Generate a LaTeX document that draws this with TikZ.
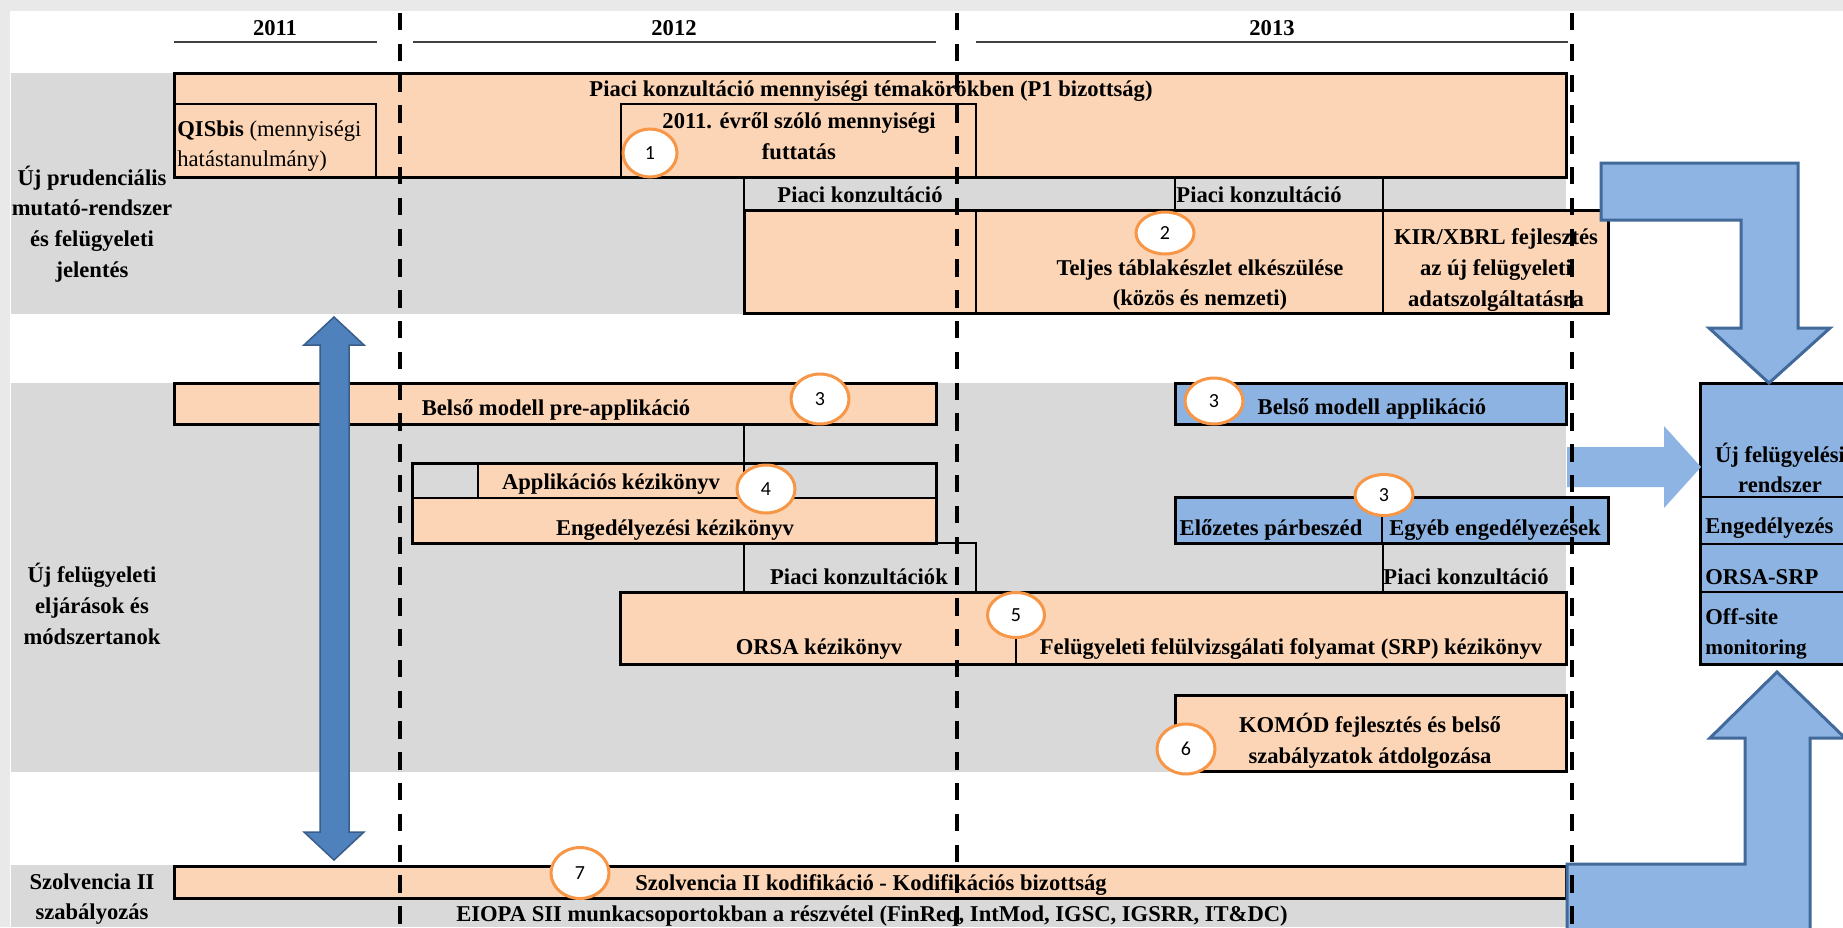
\documentclass[tikz,border=0pt]{standalone}
\usepackage{fontspec}
\setmainfont{Liberation Serif}
\newfontfamily\numfont{Carlito}
\usetikzlibrary{shapes.geometric}

\definecolor{framegray}{HTML}{E9E9E9}
\definecolor{bandgray}{HTML}{D9D9D9}
\definecolor{peach}{HTML}{FBD5B5}
\definecolor{skyblue}{HTML}{8DB3E2}
\definecolor{arrowblue}{HTML}{8EB4E3}
\definecolor{arrowedge}{HTML}{41699A}
\definecolor{darkblue}{HTML}{4F81BD}
\definecolor{darkedge}{HTML}{385D8A}
\definecolor{ringorange}{HTML}{F79646}

\begin{document}
\begin{tikzpicture}
[   x=0.5pt, y=-0.5pt,
    font=\bfseries\fontsize{11.3}{15.3}\selectfont,
    every node/.style={inner sep=0pt,align=center},
    edge/.style={draw=black,line width=1.5pt},
    obox/.style={edge,fill=#1},
    obox/.default=peach,
    cell/.style={draw=black,line width=0.75pt},
    dline/.style={draw=black,line width=2pt,dash pattern=on 8.7pt off 6.7pt},
    num/.style={ellipse,draw=ringorange,fill=white,line width=1.5pt,font=\numfont\mdseries\fontsize{10}{10}\selectfont},
]
    \useasboundingbox (0,0) rectangle (1843,927);
    \clip (0,0) rectangle (1843,927);
    %
    \fill[framegray] (0,0) rectangle (1843,927);
    \fill[white] (10,11) rectangle (1843,927);
    \fill[bandgray] (11,73) rectangle (1566,314);
    \fill[bandgray] (11,383) rectangle (1566,772);
    \fill[bandgray] (11,865) rectangle (1566,927);

    \foreach \yr/\x/\a/\b in {2011/275/174/377, 2012/674/413/936, 2013/1272/976/1568}
    {
        \node (y\yr) at (\x,28) {\yr};
        \draw[black!75,line width=0.6pt] (\a,42) -- (\b,42);
    }

    \node (row1) at (92,224) {Új prudenciális\\mutató-rendszer\\és felügyeleti\\jelentés};
    \node (row2) at (92,604) {Új felügyeleti\\eljárások és\\módszertanok};
    \node (row3) at (92,899) {Szolvencia II\\szabályozás};

    % prudencialis sor
    \draw[obox] (174,73) rectangle (1566,177);
    \draw[cell] (174,104) -- (376,104) -- (376,177);
    \draw[cell] (621,177) -- (621,104) -- (976,104) -- (976,177);
    \node (p1) at (871,91) {Piaci konzultáció mennyiségi témakörökben (P1 bizottság)};
    \node[anchor=west,align=left] (qis) at (177,146) {QISbis {\mdseries (mennyiségi}\\{\mdseries hatástanulmány)}};
    \node (futtatas) at (799,136) {2011. évről szóló mennyiségi\\futtatás};

    \draw[cell] (744,177) -- (744,210) (1175,177) -- (1175,210) (1383,177) -- (1383,210);
    \node (pk1) at (860,195) {Piaci konzultáció};
    \node (pk2) at (1259,195) {Piaci konzultáció};

    \draw[obox] (744,210) rectangle (1608,313);
    \draw[cell] (976,210) -- (976,313) (1383,210) -- (1383,313);
    \node (teljes) at (1200,285) {Teljes táblakészlet elkészülése\\(közös és nemzeti)};
    \node (kir) at (1496,270) {KIR/XBRL fejlesztés\\az új felügyeleti\\adatszolgáltatásra};

    % felugyeleti eljarasok
    \draw[obox] (174,383) rectangle (936,424);
    \node (preapp) at (556,410) {Belső modell pre-applikáció};
    \draw[cell] (744,424) -- (744,463);

    \fill[peach] (412,463) rectangle (936,543);
    \fill[bandgray] (412,463) rectangle (478,498);
    \fill[bandgray] (744,463) rectangle (936,498);
    \draw[cell] (412,498) -- (936,498) (478,463) -- (478,498) (744,463) -- (744,498);
    \draw[edge] (412,463) rectangle (936,543);
    \node (appk) at (611,484) {Applikációs kézikönyv};
    \node (engk) at (675,530) {Engedélyezési kézikönyv};

    \draw[cell] (744,543) -- (744,592) (936,543) -- (976,543) -- (976,592) (1383,543) -- (1383,592);
    \node (pk3) at (859,577) {Piaci konzultációk};
    \node (pk4) at (1466,577) {Piaci konzultáció};

    \draw[obox=skyblue] (1175,383) rectangle (1566,424);
    \node (app) at (1372,409) {Belső modell applikáció};
    \draw[obox=skyblue] (1175,497) rectangle (1608,543);
    \draw[edge,line width=1pt] (1382,497) -- (1382,543);
    \node (elozetes) at (1271,530) {Előzetes párbeszéd};
    \node (egyeb) at (1495,530) {Egyéb engedélyezések};

    \draw[obox] (620,592) rectangle (1566,664);
    \draw[cell] (1016,592) -- (1016,664);
    \node (orsa) at (819,649) {ORSA kézikönyv};
    \node (srp) at (1291,649) {Felügyeleti felülvizsgálati folyamat (SRP) kézikönyv};

    \draw[obox] (1175,695) rectangle (1566,771);
    \node (komod) at (1370,741) {KOMÓD fejlesztés és belső\\szabályzatok átdolgozása};

    % szolvencia II
    \draw[obox] (174,866) rectangle (1566,898);
    \node (kodif) at (871,885) {Szolvencia II kodifikáció - Kodifikációs bizottság};
    \node (eiopa) at (872,916) {EIOPA SII munkacsoportokban a részvétel (FinReq, IntMod, IGSC, IGSRR, IT\&DC)};

    % uj rendszer
    \draw[obox=skyblue] (1700,383) rectangle (1862,664);
    \draw[cell] (1700,497) -- (1862,497) (1700,544) -- (1862,544) (1700,592) -- (1862,592);
    \node (uj) at (1780,468) {Új felügyelési\\rendszer};
    \node[anchor=west] (eng) at (1705,528) {Engedélyezés};
    \node[anchor=west] (orsasrp) at (1705,577) {ORSA-SRP};
    \node[anchor=west,align=left] (offsite) at (1705,634) {Off-site\\{\fontsize{10.6}{15.3}\selectfont monitoring}};

    % nyilak
    \draw[fill=arrowblue,draw=arrowedge,line width=1.5pt] (1601,163) -- (1798,163) -- (1798,328) -- (1830,328)
        -- (1769,383) -- (1709,328) -- (1741,328) -- (1741,220) -- (1601,220) -- cycle;
    \draw[fill=arrowblue,draw=arrowedge,line width=1.5pt] (1567,940) -- (1567,864) -- (1745,864) -- (1745,738)
        -- (1710,738) -- (1777,672) -- (1845,738) -- (1810,738) -- (1810,940) -- cycle;
    \fill[arrowblue] (1567,447) -- (1664,447) -- (1664,426) -- (1701,467) -- (1664,508) -- (1664,487) -- (1567,487) -- cycle;
    \draw[fill=darkblue,draw=darkedge,line width=0.75pt] (334,317) -- (364,345) -- (349,345) -- (349,832) -- (364,832)
        -- (334,860) -- (304,832) -- (320,832) -- (320,345) -- (304,345) -- cycle;

    \foreach \x in {400,957,1572}
    {
        \draw[dline] (\x,13) -- (\x,927);
    }

    \foreach \lab/\x/\y/\w/\h [count=\i] in {1/650/153/54/48, 2/1165/233/58/42, 3/820/399/58/50, 3/1214/401/58/46,
        3/1384/495/58/41, 4/766/489/58/48, 5/1016/615/57/45, 6/1186/749/58/50, 7/580/873/58/51}
    {
        \node[num,minimum width=\w*0.5pt,minimum height=\h*0.5pt] (c-\i) at (\x,\y) {\lab};
    }
\end{tikzpicture}
\end{document}
